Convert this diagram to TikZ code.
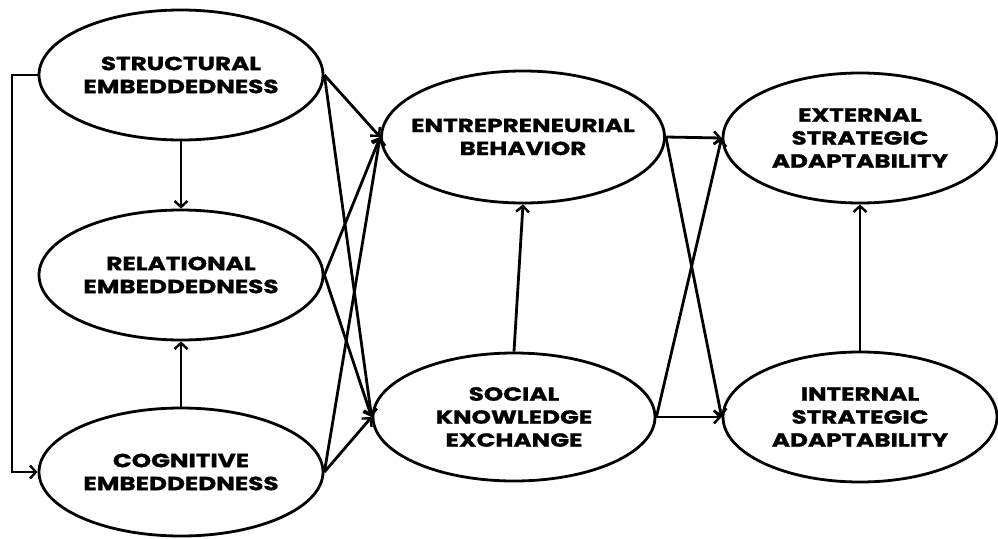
\documentclass[tikz,border=0pt]{standalone}
\usepackage{fontspec}
\setmainfont{Poppins}[BoldFeatures={FakeStretch=1.3,FakeBold=1.2}]
\usetikzlibrary{arrows.meta}
\usetikzlibrary{shapes.geometric}

\tikzset{
  construct/.style={draw, ellipse, line width=2.8pt, inner xsep=-60pt, inner ysep=-30pt, align=center,
    font=\fontsize{19}{23}\selectfont\bfseries},
  path/.style={line width=2.8pt, -{Straight Barb[length=6pt,width=13pt,line width=2.4pt]}}
}

\begin{document}
\begin{tikzpicture}[x=1pt,y=-1pt]

    \useasboundingbox (0,0) rectangle (998,538);

    % draw ellipses
    \node[construct, minimum width=284pt, minimum height=130pt] (struct) at (181,75) {STRUCTURAL\\EMBEDDEDNESS};
    \node[construct, minimum width=284pt, minimum height=130pt] (relat) at (181,275) {RELATIONAL\\EMBEDDEDNESS};
    \node[construct, minimum width=284pt, minimum height=128pt] (cogn) at (181,472) {COGNITIVE\\EMBEDDEDNESS};
    \node[construct, minimum width=283pt, minimum height=132pt] (entre) at (523,137) {ENTREPRENEURIAL\\BEHAVIOR};
    \node[construct, minimum width=282pt, minimum height=128pt] (social) at (514,417) {SOCIAL\\KNOWLEDGE\\EXCHANGE};
    \node[construct, minimum width=274pt, minimum height=130pt] (extern) at (860,138) {EXTERNAL\\STRATEGIC\\ADAPTABILITY};
    \node[construct, minimum width=274pt, minimum height=130pt] (intern) at (860,417) {INTERNAL\\STRATEGIC\\ADAPTABILITY};

    % embeddedness paths
    \draw[path] (struct.south) -- (relat.north);
    \draw[path] (cogn.north) -- (relat.south);
    \coordinate (bendtop) at (12,75);
    \coordinate (bendbot) at (12,472);
    \draw[path] (struct.west) -- (bendtop) -- (bendbot) -- (cogn.west);

    % paths to behavior and exchange
    \foreach \src in {struct,relat,cogn} {
      \draw[path] (\src.east) -- (entre.west);
      \draw[path] (\src.east) -- (social.west);
    }
    \draw[path] (social.north) -- (entre.south);

    % paths to adaptability
    \foreach \src in {entre,social} {
      \draw[path] (\src.east) -- (extern.west);
      \draw[path] (\src.east) -- (intern.west);
    }
    \draw[path] (intern.north) -- (extern.south);

\end{tikzpicture}
\end{document}
